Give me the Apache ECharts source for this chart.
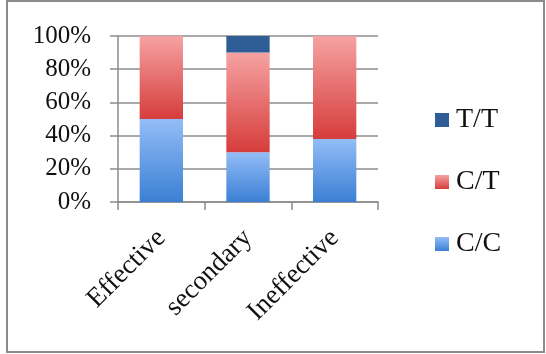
<!DOCTYPE html>
<html>
<head>
<meta charset="utf-8">
<script src="https://cdn.jsdelivr.net/npm/echarts@6/dist/echarts.min.js"></script>
<style>
  html, body { margin: 0; padding: 0; background: #fff; }
  #chart { width: 546px; height: 354px; }
</style>
</head>
<body>
<div id="chart"></div>
<script>
// Genotype share (%) per response group
const categories = ['Effective', 'secondary', 'Ineffective'];
const ccValues = [50, 30, 38];
const ctValues = [50, 60, 62];
const ttValues = [0, 10, 0];
const yTicks = [0, 20, 40, 60, 80, 100];

const serif = '"Liberation Serif", "DejaVu Serif", serif';
const grey = '#8c8c8c';

function vGrad(top, bottom) {
  return new echarts.graphic.LinearGradient(0, 0, 0, 1, [
    { offset: 0, color: top },
    { offset: 1, color: bottom }
  ]);
}

const chart = echarts.init(document.getElementById('chart'), null, { renderer: 'canvas' });
chart.setOption({
  animation: false,
  backgroundColor: '#fff',
  graphic: [{
    type: 'rect',
    shape: { x: 7, y: 1, width: 537, height: 351 },
    style: { fill: 'none', stroke: grey, lineWidth: 2 },
    silent: true
  }],
  grid: { left: 118, right: 168, top: 36, bottom: 152 },
  legend: {
    orient: 'vertical',
    left: 430,
    top: 101,
    itemWidth: 14,
    itemHeight: 14,
    itemGap: 34,
    icon: 'rect',
    data: ['T/T', 'C/T', 'C/C'],
    textStyle: { fontFamily: serif, fontSize: 28, color: '#111', lineHeight: 28, padding: [0, 0, 0, 2] }
  },
  xAxis: {
    type: 'category',
    data: categories,
    axisLine: { lineStyle: { color: grey, width: 1.5 } },
    axisTick: { show: true, length: 8, alignWithLabel: false, lineStyle: { color: grey, width: 1.5 } },
    axisLabel: { rotate: 45, margin: 32, fontFamily: serif, fontSize: 27, color: '#111', interval: 0 }
  },
  yAxis: {
    type: 'value',
    min: yTicks[0],
    max: yTicks[yTicks.length - 1],
    interval: 20,
    axisLine: { show: true, lineStyle: { color: grey, width: 1.5 } },
    axisTick: { show: true, length: 8, lineStyle: { color: grey, width: 1.5 } },
    splitLine: { lineStyle: { color: grey, width: 1.5 } },
    axisLabel: { margin: 27, fontFamily: serif, fontSize: 25, color: '#111', formatter: '{value}%' }
  },
  series: [
    {
      name: 'C/C', type: 'bar', stack: 'g', barWidth: '50%',
      data: ccValues,
      itemStyle: { color: vGrad('#93bdf7', '#3b7fd4') }
    },
    {
      name: 'C/T', type: 'bar', stack: 'g', barWidth: '50%',
      data: ctValues,
      itemStyle: { color: vGrad('#f6a2a2', '#d63d3c') }
    },
    {
      name: 'T/T', type: 'bar', stack: 'g', barWidth: '50%',
      data: ttValues,
      itemStyle: { color: '#2f5e96' }
    }
  ]
});
</script>
</body>
</html>
